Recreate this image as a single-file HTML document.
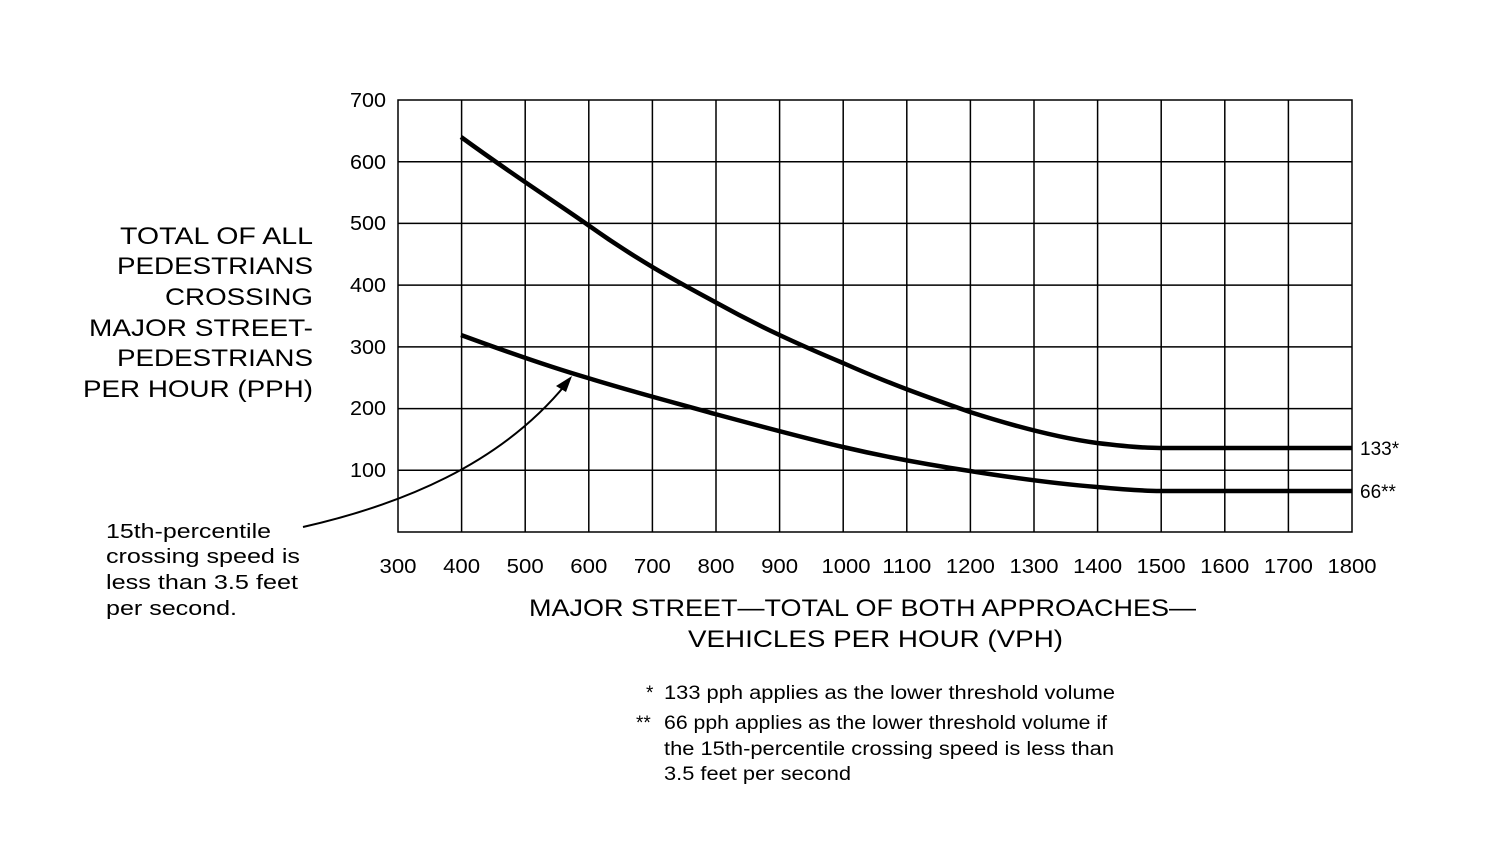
<!DOCTYPE html>
<html><head><style>
body{margin:0;background:#fff;}
svg{display:block;font-family:"Liberation Sans",Arial,sans-serif;}
</style></head><body>
<svg width="1500" height="854" viewBox="0 0 1500 854" xmlns="http://www.w3.org/2000/svg">
<rect width="1500" height="854" fill="#fff"/>
<g stroke="#000" stroke-width="1.5" fill="none">
<rect x="398" y="100" width="954" height="432"/>
<path d="M461.6 100V532M525.2 100V532M588.8 100V532M652.4 100V532M716 100V532M779.6 100V532M843.2 100V532M906.8 100V532M970.4 100V532M1034 100V532M1097.6 100V532M1161.2 100V532M1224.8 100V532M1288.4 100V532"/>
<path d="M398 161.7H1352M398 223.4H1352M398 285.1H1352M398 346.9H1352M398 408.6H1352M398 470.3H1352"/>
</g>
<g stroke="#000" stroke-width="4.5" fill="none" stroke-linecap="butt">
<path d="M461 137 C520 180 560 205 588 225 C640 262 680 283 715 302 C760 327 800 345 843 363 C890 384 930 398 970 412 C1020 428 1060 438 1097 443 C1130 447 1145 448 1160 448 L1352 448"/>
<path d="M461 335 C510 353 550 367 588 378 C640 394 680 404 715 414 C760 426 800 437 843 447 C890 458 930 465 970 471 C1020 479 1060 484 1097 487 C1130 490 1145 491 1160 491 L1352 491"/>
</g>
<path d="M303 527 C400 505 500 465 566 384" stroke="#000" stroke-width="2" fill="none"/>
<path d="M572 376 L556 386 L566 392 Z" fill="#000"/>
<g font-size="20" fill="#000">
<g text-anchor="end">
<text x="386" y="107" textLength="36" lengthAdjust="spacingAndGlyphs">700</text><text x="386" y="169" textLength="36" lengthAdjust="spacingAndGlyphs">600</text><text x="386" y="230" textLength="36" lengthAdjust="spacingAndGlyphs">500</text><text x="386" y="292" textLength="36" lengthAdjust="spacingAndGlyphs">400</text><text x="386" y="354" textLength="36" lengthAdjust="spacingAndGlyphs">300</text><text x="386" y="415" textLength="36" lengthAdjust="spacingAndGlyphs">200</text><text x="386" y="477" textLength="36" lengthAdjust="spacingAndGlyphs">100</text>
</g>
<g text-anchor="middle">
<text x="398" y="573" textLength="37" lengthAdjust="spacingAndGlyphs">300</text><text x="461.6" y="573" textLength="37" lengthAdjust="spacingAndGlyphs">400</text><text x="525.2" y="573" textLength="37" lengthAdjust="spacingAndGlyphs">500</text><text x="588.8" y="573" textLength="37" lengthAdjust="spacingAndGlyphs">600</text><text x="652.4" y="573" textLength="37" lengthAdjust="spacingAndGlyphs">700</text><text x="716" y="573" textLength="37" lengthAdjust="spacingAndGlyphs">800</text><text x="779.6" y="573" textLength="37" lengthAdjust="spacingAndGlyphs">900</text><text x="846" y="573" textLength="49" lengthAdjust="spacingAndGlyphs">1000</text><text x="906.8" y="573" textLength="49" lengthAdjust="spacingAndGlyphs">1100</text><text x="970.4" y="573" textLength="49" lengthAdjust="spacingAndGlyphs">1200</text><text x="1034" y="573" textLength="49" lengthAdjust="spacingAndGlyphs">1300</text><text x="1097.6" y="573" textLength="49" lengthAdjust="spacingAndGlyphs">1400</text><text x="1161.2" y="573" textLength="49" lengthAdjust="spacingAndGlyphs">1500</text><text x="1224.8" y="573" textLength="49" lengthAdjust="spacingAndGlyphs">1600</text><text x="1288.4" y="573" textLength="49" lengthAdjust="spacingAndGlyphs">1700</text><text x="1352" y="573" textLength="49" lengthAdjust="spacingAndGlyphs">1800</text>
</g>
<text x="1360" y="455" font-size="19">133*</text>
<text x="1360" y="498" font-size="19">66**</text>
<g font-size="24">
<text x="120" y="244" textLength="193" lengthAdjust="spacingAndGlyphs">TOTAL OF ALL</text>
<text x="117" y="274" textLength="196" lengthAdjust="spacingAndGlyphs">PEDESTRIANS</text>
<text x="165" y="305" textLength="148" lengthAdjust="spacingAndGlyphs">CROSSING</text>
<text x="89" y="336" textLength="224" lengthAdjust="spacingAndGlyphs">MAJOR STREET-</text>
<text x="117" y="366" textLength="196" lengthAdjust="spacingAndGlyphs">PEDESTRIANS</text>
<text x="83" y="397" textLength="230" lengthAdjust="spacingAndGlyphs">PER HOUR (PPH)</text>
</g>
<g font-size="24">
<text x="529" y="616" textLength="667" lengthAdjust="spacingAndGlyphs">MAJOR STREET—TOTAL OF BOTH APPROACHES—</text>
<text x="688" y="647" textLength="375" lengthAdjust="spacingAndGlyphs">VEHICLES PER HOUR (VPH)</text>
</g>
<text x="106" y="538" textLength="165" lengthAdjust="spacingAndGlyphs">15th-percentile</text>
<text x="106" y="563" textLength="194" lengthAdjust="spacingAndGlyphs">crossing speed is</text>
<text x="106" y="589" textLength="192" lengthAdjust="spacingAndGlyphs">less than 3.5 feet</text>
<text x="106" y="615" textLength="131" lengthAdjust="spacingAndGlyphs">per second.</text>
<g font-size="19">
<text x="646" y="699">*</text><text x="664" y="699" textLength="451" lengthAdjust="spacingAndGlyphs">133 pph applies as the lower threshold volume</text>
<text x="636" y="729">**</text><text x="664" y="729" textLength="443" lengthAdjust="spacingAndGlyphs">66 pph applies as the lower threshold volume if</text>
<text x="664" y="755" textLength="450" lengthAdjust="spacingAndGlyphs">the 15th-percentile crossing speed is less than</text>
<text x="664" y="780" textLength="187" lengthAdjust="spacingAndGlyphs">3.5 feet per second</text>
</g>
</g>
</svg>
</body></html>
